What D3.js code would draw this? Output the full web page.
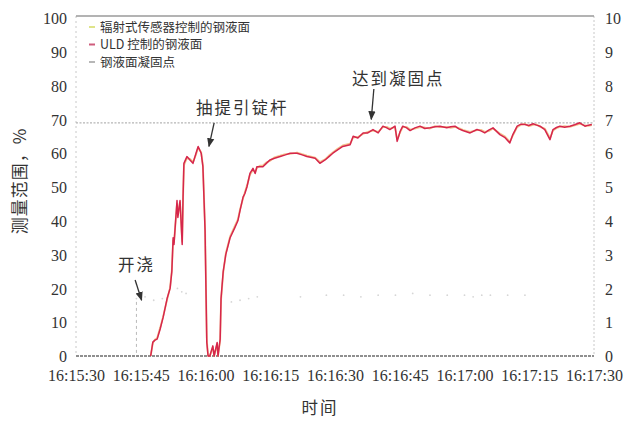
<!DOCTYPE html>
<html>
<head>
<meta charset="utf-8">
<script src="https://cdn.jsdelivr.net/npm/d3@7"></script>
<style>
  html, body { margin: 0; padding: 0; background: #fff; }
  svg { display: block; }
  .num { font-family: "Liberation Serif", "DejaVu Serif", serif; fill: #333; }
  .cjk { font-family: "Noto Sans CJK SC", sans-serif; fill: #333; }
</style>
</head>
<body>
<svg id="chart" width="627" height="421"></svg>
<script>
// Mould level during casting start, seconds after 16:15:30
const startTime = "16:15:30";
const seconds = [
  17.3, 17.8, 18.3, 18.8, 19.5, 20.2, 21.1, 21.8, 22.2, 22.5, 22.7, 23.4, 23.6, 24.1, 24.6, 24.8,
  25.0, 25.7, 26.4, 27.1, 27.8, 28.3, 29.0, 29.4, 29.9, 30.3, 30.6, 31.0, 31.7, 32.0, 32.7, 32.9,
  33.4, 33.6, 34.1, 34.7, 35.7, 36.8, 37.5, 38.0, 38.7, 39.1, 39.6, 40.3, 41.0, 41.5, 41.9, 42.6,
  43.3, 44.1, 44.9, 46.0, 47.3, 48.5, 49.6, 51.2, 52.4, 53.5, 55.4, 56.5, 57.7, 58.6, 59.5, 60.6,
  61.8, 63.5, 64.2, 65.3, 66.5, 67.6, 68.8, 70.0, 71.1, 72.0, 72.7, 73.9, 74.4, 75.1, 75.7, 76.6,
  77.4, 78.5, 79.7, 80.8, 82.0, 83.2, 84.3, 85.9, 86.8, 87.8, 88.7, 89.6, 91.3, 92.9, 93.8, 94.7,
  95.6, 96.6, 98.2, 99.4, 100.5, 101.2, 102.2, 103.1, 104.0, 104.9, 105.9, 106.7, 107.5, 108.6, 109.8, 110.5,
  111.3, 112.1, 113.2, 114.4, 115.5, 116.7, 117.9, 118.7, 119.5
];
// ULD controlled level, %
const uldLevel = [
  0, 4.1, 4.7, 5, 8, 11.5, 17, 20, 25, 35, 33, 46, 41, 46, 33, 47,
  57, 59, 58, 57, 60, 62, 60, 56, 37, 4, 0, 0, 3, 0, 4, 0,
  5, 17, 25, 30, 35, 38, 40, 43, 47, 48, 50, 54, 55.5, 54, 56, 56,
  56, 57, 58, 58.5, 59, 59.5, 60, 60, 59.5, 59, 58.5, 57, 58, 59, 60, 61,
  62, 62.5, 65, 64.5, 66, 66, 67, 66, 68, 67.5, 67, 68, 63.5, 66.5, 68, 67.5,
  66.7, 67.5, 68, 67.3, 67.5, 67.8, 68, 67.5, 67.8, 68, 67.2, 66.7, 66, 67, 66.6, 66,
  66.8, 67.5, 65.5, 64.6, 63, 65.5, 68, 68.6, 68.5, 68.2, 68.7, 68.3, 68, 67, 64, 67,
  67.6, 68, 67.7, 68, 68.4, 69, 68, 68.3, 68.5
];
// Radiation sensor controlled level, %
const radiationLevel = [
  0, 3.8, 4.9, 5.3, 8.4, 11.8, 16.6, 20.3, 25.4, 34.2, 33.6, 45, 41.8, 45.5, 33.8, 46.5,
  56.4, 58.6, 58.3, 57.4, 59.6, 61.6, 60.3, 56.5, 38, 5, 0, 0, 2.6, 0, 3.5, 0,
  4.6, 16.4, 24.5, 30.4, 35.4, 38.5, 40.4, 43.4, 46.6, 48.4, 50.4, 53.6, 55, 54.4, 55.6, 56.3,
  56.4, 57.3, 57.7, 58.8, 59.3, 59.7, 59.8, 60.2, 59.7, 59.3, 58.7, 57.4, 58.2, 59.3, 60.2, 61.3,
  62.3, 62.8, 64.6, 64.8, 65.7, 66.3, 66.7, 66.3, 67.7, 67.8, 67.3, 67.7, 64, 66.2, 67.7, 67.8,
  67, 67.3, 67.7, 67.6, 67.3, 68, 67.7, 67.8, 67.5, 67.8, 67.4, 66.9, 66.3, 66.8, 66.9, 66.3,
  66.5, 67.3, 65.8, 64.9, 63.4, 65.2, 67.7, 68.4, 68.7, 68, 68.4, 68.5, 67.8, 67.3, 64.5, 66.7,
  67.4, 67.8, 68, 67.8, 68.2, 68.7, 68.2, 68.1, 68.3
];
// Level at which the steel surface solidifies, %
const solidSeconds = [0, 120];
const solidLevel = [69, 69];
// Faint secondary trace (scattered points)
const faintSeconds = [14, 16, 18, 20, 23.5, 24.5, 25.5, 36, 38, 40, 42, 52, 58, 62, 66, 70, 74, 78, 82, 86, 90, 92, 94, 96, 100, 104];
const faintLevel = [17, 17.5, 16.5, 17, 20, 19, 18.5, 16, 16.5, 17, 17.5, 17.5, 18, 18, 17.5, 18, 18, 18.5, 18, 18, 18, 17.5, 18, 18, 18, 18];

const leftTicks = [0, 10, 20, 30, 40, 50, 60, 70, 80, 90, 100];
const rightTicks = [0, 1, 2, 3, 4, 5, 6, 7, 8, 9, 10];
const timeTicks = ["16:15:30", "16:15:45", "16:16:00", "16:16:15", "16:16:30", "16:16:45", "16:17:00", "16:17:15", "16:17:30"];
const legendLabels = ["辐射式传感器控制的钢液面", "ULD 控制的钢液面", "钢液面凝固点"];
const legendColors = ["#dfe48a", "#cf5c7c", "#b7b7b7"];
const notes = [
  { text: "开浇", tx: 118, ty: 271 },
  { text: "抽提引锭杆", tx: 196, ty: 114 },
  { text: "达到凝固点", tx: 352, ty: 85 }
];
const arrows = [
  { from: [13.7, 22.5], to: [15.2, 16.5] },
  { from: [32, 69], to: [30.8, 62] },
  { from: [69, 79], to: [68.4, 70] }
];

const parseT = d3.timeParse("%H:%M:%S");
const t0 = parseT(startTime);
const toDate = s => new Date(t0.getTime() + s * 1000);

const svg = d3.select("#chart");
const plotL = 76, plotR = 594, plotT = 16, plotB = 356;

const x = d3.scaleTime().domain([toDate(0), toDate(120)]).range([plotL, plotR]);
const y = d3.scaleLinear().domain([0, 100]).range([plotB, plotT + 2]);
const y2 = d3.scaleLinear().domain([0, 10]).range([plotB, plotT + 2]);

// frame: dotted sides, solid top and base
svg.append("line").attr("x1", plotL).attr("x2", plotL).attr("y1", plotT).attr("y2", plotB)
  .attr("stroke", "#c8c8c8").attr("stroke-width", 1).attr("stroke-dasharray", "2,3");
svg.append("line").attr("x1", plotR).attr("x2", plotR).attr("y1", plotT).attr("y2", plotB)
  .attr("stroke", "#c8c8c8").attr("stroke-width", 1).attr("stroke-dasharray", "2,2");
svg.append("line").attr("x1", plotL).attr("x2", plotR).attr("y1", plotT).attr("y2", plotT)
  .attr("stroke", "#9a9a9a").attr("stroke-width", 1.5);
svg.append("line").attr("x1", plotL).attr("x2", plotR).attr("y1", plotB).attr("y2", plotB)
  .attr("stroke", "#8f8f8f").attr("stroke-width", 2).attr("stroke-dasharray", "3,1");

// axes (labels only)
const leftAxis = d3.axisLeft(y).tickValues(leftTicks).tickSize(0).tickPadding(9);
const gL = svg.append("g").attr("transform", `translate(${plotL},0)`).call(leftAxis);
const rightAxis = d3.axisRight(y2).tickValues(rightTicks).tickSize(0).tickPadding(11);
const gR = svg.append("g").attr("transform", `translate(${plotR},0)`).call(rightAxis);
const bottomAxis = d3.axisBottom(x).tickValues(timeTicks.map(s => toDate((parseT(s) - t0) / 1000)))
  .tickFormat(d3.timeFormat("%H:%M:%S")).tickSize(0).tickPadding(14);
const gB = svg.append("g").attr("transform", `translate(0,${plotB})`).call(bottomAxis);
[gL, gR, gB].forEach(g => {
  g.select(".domain").remove();
  g.selectAll("text").attr("class", "num").attr("font-size", 16).style("fill", "#333");
});
gL.selectAll("text").attr("dy", "0.36em");
gR.selectAll("text").attr("dy", "0.36em");

// pouring start marker
svg.append("line").attr("x1", x(toDate(14))).attr("x2", x(toDate(14)))
  .attr("y1", y(16)).attr("y2", plotB)
  .attr("stroke", "#b9b9b9").attr("stroke-width", 1).attr("stroke-dasharray", "3,3");

// solidification level
const line = (xs, vs, sc) => d3.line().x((d, i) => x(toDate(xs[i]))).y(d => sc(d))(vs);
svg.append("path").attr("d", line(solidSeconds, solidLevel, y))
  .attr("fill", "none").attr("stroke", "#b5b5b5").attr("stroke-width", 1.3).attr("stroke-dasharray", "2,1.5");

// faint trace
svg.selectAll("circle.faint").data(faintLevel).join("circle").attr("class", "faint")
  .attr("cx", (d, i) => x(toDate(faintSeconds[i]))).attr("cy", d => y(d)).attr("r", 0.9)
  .attr("fill", "#d6d6d6");

// level curves
svg.append("path").attr("d", line(seconds, radiationLevel, y))
  .attr("fill", "none").attr("stroke", "#f0b070").attr("stroke-width", 1.8).attr("stroke-linejoin", "round").attr("opacity", 0.8);
svg.append("path").attr("d", line(seconds, uldLevel, y))
  .attr("fill", "none").attr("stroke", "#d6264c").attr("stroke-width", 1.5).attr("stroke-linejoin", "round");

// legend
const lg = svg.append("g");
legendLabels.forEach((t, i) => {
  const ly = 27 + i * 17.5;
  lg.append("line").attr("x1", 89).attr("x2", 95).attr("y1", ly).attr("y2", ly)
    .attr("stroke", legendColors[i]).attr("stroke-width", 2);
  lg.append("text").attr("class", "cjk").attr("x", 100).attr("y", ly).attr("dy", "0.36em")
    .attr("font-size", 12.5).text(t);
});

// annotations with arrows
const defs = svg.append("defs");
defs.append("marker").attr("id", "head").attr("viewBox", "0 0 10 10").attr("refX", 9).attr("refY", 5)
  .attr("markerWidth", 7).attr("markerHeight", 8).attr("orient", "auto")
  .append("path").attr("d", "M0,1 L10,5 L0,9 Z").attr("fill", "#333");
notes.forEach(n => {
  svg.append("text").attr("class", "cjk").attr("x", n.tx).attr("y", n.ty)
    .attr("font-size", 16.5).attr("letter-spacing", 2).text(n.text);
});
arrows.forEach(a => {
  svg.append("line").attr("x1", x(toDate(a.from[0]))).attr("y1", y(a.from[1]))
    .attr("x2", x(toDate(a.to[0]))).attr("y2", y(a.to[1]))
    .attr("stroke", "#333").attr("stroke-width", 1.3).attr("marker-end", "url(#head)");
});

// axis titles
svg.append("text").attr("class", "cjk").attr("transform", "translate(26,181) rotate(-90)")
  .attr("text-anchor", "middle").attr("font-size", 17).attr("letter-spacing", 1).text("测量范围，%");
svg.append("text").attr("class", "cjk").attr("x", 320).attr("y", 414)
  .attr("text-anchor", "middle").attr("font-size", 16.5).attr("letter-spacing", 2).text("时间");
</script>
</body>
</html>
